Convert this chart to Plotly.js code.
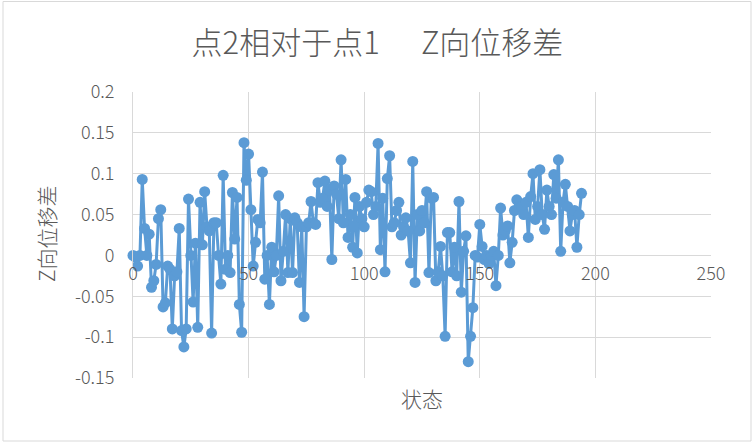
<!DOCTYPE html>
<html>
<head>
<meta charset="utf-8">
<script src="https://cdn.plot.ly/plotly-3.0.1.min.js"></script>
<style>html,body{margin:0;padding:0;background:#fff;}#chart{width:755px;height:444px;}</style>
</head>
<body>
<div id="chart"></div>
<script>
// 状态 index 0..194 and Z向位移差 values
var zDiff = [
 0.000,-0.002,-0.013,0.000,0.093,0.033,0.000,0.026,-0.039,-0.031,
 -0.011,0.045,0.056,-0.063,-0.058,-0.013,-0.017,-0.090,-0.025,-0.020,
 0.033,-0.092,-0.112,-0.090,0.069,0.000,-0.057,0.015,-0.088,0.065,
 0.013,0.078,0.035,0.030,-0.095,0.040,0.040,0.000,-0.035,0.098,
 -0.017,0.000,-0.021,0.077,0.020,0.071,-0.060,-0.094,0.138,0.092,
 0.124,0.056,-0.013,0.016,0.044,0.040,0.102,-0.029,0.000,-0.060,
 0.010,-0.020,0.000,0.073,-0.031,0.005,0.050,-0.021,0.045,-0.021,
 0.046,0.040,-0.033,0.035,-0.075,0.035,0.040,0.066,0.040,0.038,
 0.089,0.065,0.070,0.091,0.060,0.080,-0.005,0.085,0.075,0.045,
 0.117,0.040,0.093,0.022,0.050,0.010,0.071,0.003,0.060,0.045,
 0.035,0.065,0.080,0.078,0.050,0.060,0.137,0.007,0.070,-0.020,
 0.094,0.122,0.035,0.040,0.055,0.065,0.025,0.035,0.046,0.030,
 -0.009,0.115,-0.033,0.050,0.030,0.055,0.040,0.078,-0.021,0.070,
 0.071,-0.031,-0.020,0.011,-0.025,-0.099,0.028,0.028,-0.020,0.010,
 -0.025,0.066,-0.045,0.005,0.024,-0.130,-0.099,-0.064,0.000,-0.002,
 0.038,0.011,-0.005,0.000,-0.010,0.000,0.005,-0.037,0.000,0.058,
 0.025,0.030,0.036,-0.009,0.016,0.055,0.068,0.060,0.060,0.050,
 0.065,0.022,0.072,0.100,0.044,0.060,0.105,0.050,0.032,0.080,
 0.060,0.050,0.099,0.070,0.117,0.005,0.065,0.087,0.060,0.030,
 0.050,0.055,0.010,0.050,0.076
];
var states = zDiff.map(function(_, i){ return i; });
var xTicks = [0, 50, 100, 150, 200, 250];
var yTicks = [-0.15, -0.1, -0.05, 0, 0.05, 0.1, 0.15, 0.2];
var yTickText = ['-0.15', '-0.1', '-0.05', '0', '0.05', '0.1', '0.15', '0.2'];

var FONT = '"Noto Sans CJK SC", "Liberation Sans", sans-serif';
var GREY = '#595959';

var trace = {
  x: states, y: zDiff, type: 'scatter', mode: 'lines+markers',
  line: {color: '#5b9bd5', width: 3},
  marker: {color: '#5b9bd5', size: 11},
  cliponaxis: false, hoverinfo: 'skip'
};

var layout = {
  width: 755, height: 444,
  margin: {l: 133, r: 44, t: 92, b: 66},
  paper_bgcolor: '#ffffff', plot_bgcolor: '#ffffff',
  showlegend: false,
  font: {family: FONT, color: GREY, size: 18, weight: 300},
  title: {
    text: '点2相对于点1\u00a0\u00a0\u00a0\u00a0\u00a0\u00a0Z向位移差',
    font: {family: FONT, size: 31, color: GREY, weight: 300},
    x: 0.5, xanchor: 'center', y: 1 - 43/444, yanchor: 'middle', yref: 'container'
  },
  xaxis: {
    range: [0, 250], tickmode: 'array', tickvals: xTicks,
    ticktext: xTicks.map(String),
    showgrid: true, gridcolor: '#d9d9d9', gridwidth: 1,
    zeroline: false, showline: false, ticks: '',
    anchor: 'free', position: 0.15/0.35,
    ticklabelstandoff: 6,
    tickfont: {family: FONT, size: 18, color: GREY, weight: 300},
    fixedrange: true
  },
  yaxis: {
    range: [-0.15, 0.2], tickmode: 'array', tickvals: yTicks, ticktext: yTickText,
    showgrid: true, gridcolor: '#d9d9d9', gridwidth: 1,
    zeroline: true, zerolinecolor: '#d9d9d9', zerolinewidth: 1,
    showline: true, linecolor: '#d9d9d9', linewidth: 1,
    ticks: '', ticklabelstandoff: 14,
    tickfont: {family: FONT, size: 18, color: GREY, weight: 300},
    fixedrange: true
  },
  annotations: [
    {text: '状态', xref: 'paper', yref: 'paper', x: 0.5, y: (378-398)/286,
     xanchor: 'center', yanchor: 'middle', showarrow: false,
     font: {family: FONT, size: 21, color: GREY, weight: 300}},
    {text: 'Z向位移差', xref: 'paper', yref: 'paper', x: (46-133)/578, y: (378-234)/286,
     xanchor: 'center', yanchor: 'middle', showarrow: false, textangle: -90,
     font: {family: FONT, size: 21, color: GREY, weight: 300}}
  ],
  shapes: [
    {type: 'rect', xref: 'paper', yref: 'paper',
     x0: (3-133)/578, x1: (751-133)/578, y0: (378-441)/286, y1: (378-1.5)/286,
     line: {color: '#d9d9d9', width: 1}, fillcolor: 'rgba(0,0,0,0)', layer: 'below'}
  ]
};

Plotly.newPlot('chart', [trace], layout, {staticPlot: true, displayModeBar: false});
</script>
</body>
</html>
